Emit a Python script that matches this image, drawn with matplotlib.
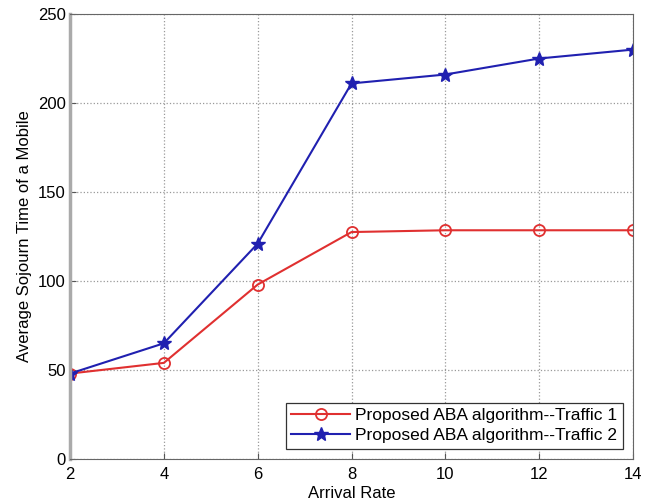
import matplotlib.pyplot as plt

arrival_rate = [2, 4, 6, 8, 10, 12, 14]
traffic1 = [48, 54, 98, 127.5, 128.5, 128.5, 128.5]
traffic2 = [48, 65, 121, 211, 216, 225, 230]

plt.rcParams['font.family'] = ['Liberation Sans', 'DejaVu Sans']

fig = plt.figure(figsize=(6.52, 5.03), dpi=100)
ax = fig.add_axes([70 / 652, 44 / 503, 563 / 652, 445 / 503])

ax.plot(arrival_rate, traffic1, color='#e03030', marker='o', markersize=8,
        markerfacecolor='none', markeredgecolor='#e03030', markeredgewidth=1.3,
        linewidth=1.5, label='Proposed ABA algorithm--Traffic 1')
ax.plot(arrival_rate, traffic2, color='#2020b0', marker='*', markersize=10,
        markerfacecolor='#2020b0', linewidth=1.5,
        label='Proposed ABA algorithm--Traffic 2')

ax.set_xlim(2, 14)
ax.set_ylim(0, 250)
ax.set_xticks(arrival_rate)
ax.set_yticks([0, 50, 100, 150, 200, 250])
ax.grid(True, linestyle=':', color='#999999', linewidth=0.9)
ax.tick_params(direction='in', labelsize=12, length=4, color='#555555', pad=3)
ax.tick_params(axis='x', pad=6)
for s in ax.spines.values():
    s.set_color('#666666')
ax.spines['left'].set_linewidth(2.5)
ax.spines['left'].set_color('#aaaaaa')

ax.set_xlabel('Arrival Rate', fontsize=12, labelpad=3)
ax.set_ylabel('Average Sojourn Time of a Mobile', fontsize=12, labelpad=4)

leg = ax.legend(loc='lower right', fontsize=12.5, fancybox=False, framealpha=1,
                edgecolor='#333333', borderaxespad=0.6, handlelength=3.4,
                borderpad=0.3, labelspacing=0.3, handletextpad=0.3)
leg.get_frame().set_linewidth(0.9)

fig.savefig('out.png', dpi=100, facecolor='white')
